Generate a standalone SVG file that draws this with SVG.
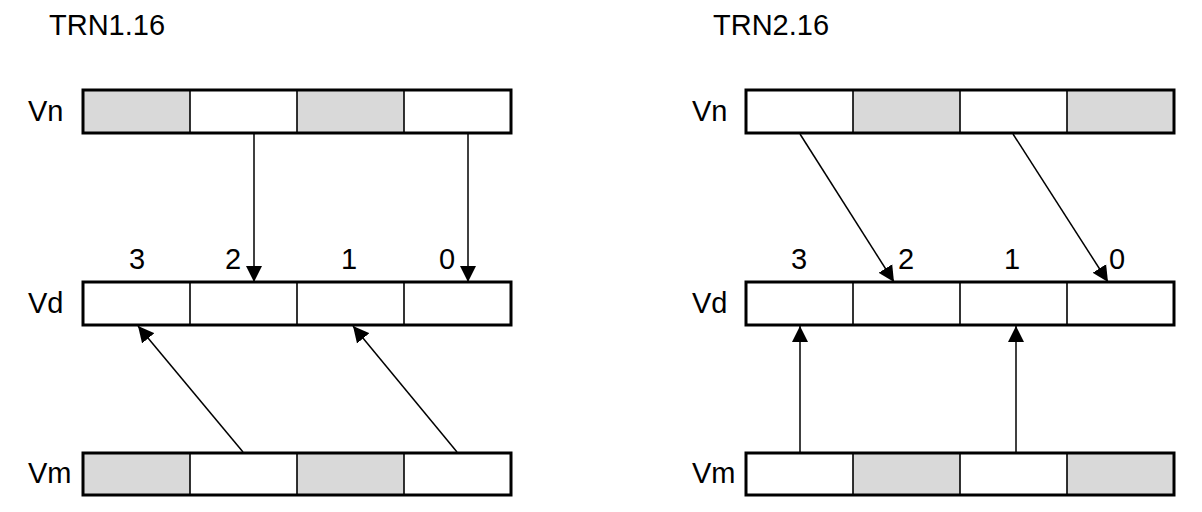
<svg xmlns="http://www.w3.org/2000/svg" width="1202" height="512" viewBox="0 0 1202 512">
<style>
text{font-family:"Liberation Sans",Arial,sans-serif;font-size:29px;fill:#000}
.num{text-anchor:middle}
.g{fill:#d9d9d9}
.w{fill:#fff}
.div{stroke:#000;stroke-width:1.6}
.box{fill:none;stroke:#000;stroke-width:3}
.conn line{stroke:#000;stroke-width:1.5;marker-end:url(#ah)}
</style>
<defs>
<marker id="ah" viewBox="0 0 16 16" refX="16" refY="8" markerWidth="16" markerHeight="17" markerUnits="userSpaceOnUse" orient="auto">
<path d="M0,0 L16,8 L0,16 z" fill="#000"/>
</marker>
</defs>
<rect width="1202" height="512" fill="#fff"/>

<text x="49" y="35">TRN1.16</text>
<text x="713" y="35">TRN2.16</text>

<g id="left-vn">
<text x="28" y="121">Vn</text>
<rect class="g" x="83" y="90" width="107" height="43"/>
<rect class="w" x="190" y="90" width="107" height="43"/>
<rect class="g" x="297" y="90" width="107" height="43"/>
<rect class="w" x="404" y="90" width="107" height="43"/>
<line class="div" x1="190" y1="90" x2="190" y2="133"/>
<line class="div" x1="297" y1="90" x2="297" y2="133"/>
<line class="div" x1="404" y1="90" x2="404" y2="133"/>
<rect class="box" x="83" y="90" width="428" height="43"/>
</g>

<g id="left-vd">
<text x="28" y="313">Vd</text>
<rect class="w" x="83" y="282" width="428" height="43"/>
<line class="div" x1="190" y1="282" x2="190" y2="325"/>
<line class="div" x1="297" y1="282" x2="297" y2="325"/>
<line class="div" x1="404" y1="282" x2="404" y2="325"/>
<rect class="box" x="83" y="282" width="428" height="43"/>
<text class="num" x="137" y="269">3</text>
<text class="num" x="233" y="269">2</text>
<text class="num" x="349" y="269">1</text>
<text class="num" x="447" y="269">0</text>
</g>

<g id="left-vm">
<text x="28" y="483">Vm</text>
<rect class="g" x="83" y="453" width="107" height="42"/>
<rect class="w" x="190" y="453" width="107" height="42"/>
<rect class="g" x="297" y="453" width="107" height="42"/>
<rect class="w" x="404" y="453" width="107" height="42"/>
<line class="div" x1="190" y1="453" x2="190" y2="495"/>
<line class="div" x1="297" y1="453" x2="297" y2="495"/>
<line class="div" x1="404" y1="453" x2="404" y2="495"/>
<rect class="box" x="83" y="453" width="428" height="42"/>
</g>

<g id="right-vn">
<text x="692" y="121">Vn</text>
<rect class="w" x="746" y="90" width="107" height="43"/>
<rect class="g" x="853" y="90" width="107" height="43"/>
<rect class="w" x="960" y="90" width="107" height="43"/>
<rect class="g" x="1067" y="90" width="107" height="43"/>
<line class="div" x1="853" y1="90" x2="853" y2="133"/>
<line class="div" x1="960" y1="90" x2="960" y2="133"/>
<line class="div" x1="1067" y1="90" x2="1067" y2="133"/>
<rect class="box" x="746" y="90" width="428" height="43"/>
</g>

<g id="right-vd">
<text x="692" y="313">Vd</text>
<rect class="w" x="746" y="282" width="428" height="43"/>
<line class="div" x1="853" y1="282" x2="853" y2="325"/>
<line class="div" x1="960" y1="282" x2="960" y2="325"/>
<line class="div" x1="1067" y1="282" x2="1067" y2="325"/>
<rect class="box" x="746" y="282" width="428" height="43"/>
<text class="num" x="799" y="269">3</text>
<text class="num" x="906" y="269">2</text>
<text class="num" x="1012" y="269">1</text>
<text class="num" x="1117" y="269">0</text>
</g>

<g id="right-vm">
<text x="692" y="483">Vm</text>
<rect class="w" x="746" y="453" width="107" height="42"/>
<rect class="g" x="853" y="453" width="107" height="42"/>
<rect class="w" x="960" y="453" width="107" height="42"/>
<rect class="g" x="1067" y="453" width="107" height="42"/>
<line class="div" x1="853" y1="453" x2="853" y2="495"/>
<line class="div" x1="960" y1="453" x2="960" y2="495"/>
<line class="div" x1="1067" y1="453" x2="1067" y2="495"/>
<rect class="box" x="746" y="453" width="428" height="42"/>
</g>

<g id="connectors" class="conn">
<line x1="254" y1="134" x2="254" y2="282"/>
<line x1="468" y1="134" x2="468" y2="282"/>
<line x1="243" y1="452" x2="138" y2="326"/>
<line x1="457" y1="452" x2="353" y2="326"/>
<line x1="800" y1="134" x2="894" y2="282"/>
<line x1="1013" y1="134" x2="1108" y2="282"/>
<line x1="800" y1="452" x2="800" y2="326"/>
<line x1="1016" y1="452" x2="1016" y2="326"/>
</g>
</svg>
